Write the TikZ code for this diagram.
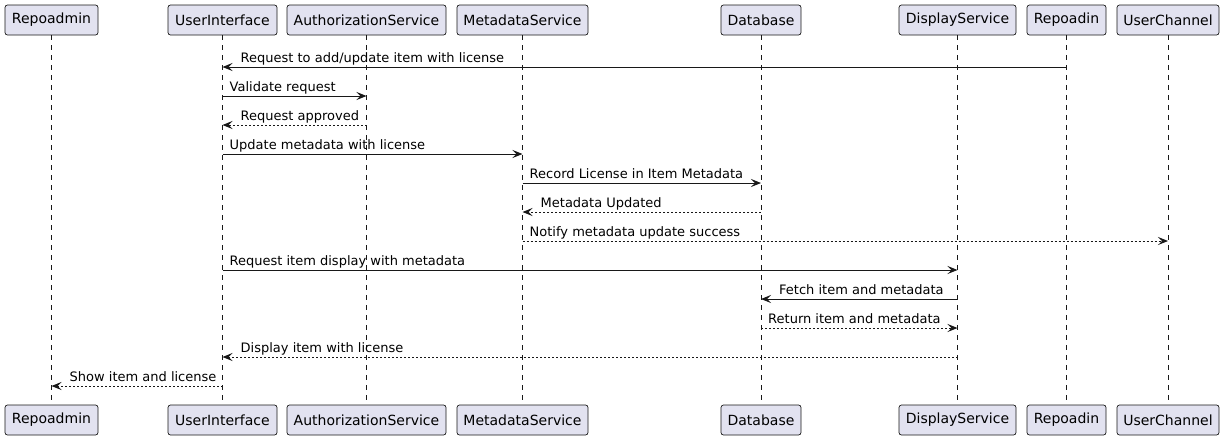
\documentclass[tikz,border=0pt]{standalone}
\usepackage{fontspec}
\setmainfont{DejaVu Sans}
\usetikzlibrary{arrows.meta}
\definecolor{boxfill}{HTML}{E2E2F0}
\definecolor{ink}{HTML}{181818}
\tikzset{
  part/.style={draw=ink, fill=boxfill, line width=0.7pt, rounded corners=2.5pt, minimum height=30pt, inner sep=0pt, font=\fontsize{14pt}{16pt}\selectfont, text=black},
  life/.style={draw=ink, line width=0.6pt, dash pattern=on 5pt off 5pt},
  msg/.style={draw=ink, line width=1pt, -{Stealth[length=10pt,width=8pt,inset=4pt]}},
  ret/.style={msg, dash pattern=on 2pt off 2pt},
  lbl/.style={anchor=base west, inner sep=0pt, font=\fontsize{13pt}{15pt}\selectfont, text=black}
}
\begin{document}
\begin{tikzpicture}[x=1pt,y=-1pt]
\useasboundingbox (0,0) rectangle (1224,440);
% top participants
\node[part, minimum width=93pt]  (ra)  at (51.5,20)  {Repoadmin};
\node[part, minimum width=109pt] (ui)  at (222.5,20) {UserInterface};
\node[part, minimum width=159pt] (as)  at (366.5,20) {AuthorizationService};
\node[part, minimum width=131pt] (ms)  at (522.5,20) {MetadataService};
\node[part, minimum width=80pt]  (db)  at (761,20)   {Database};
\node[part, minimum width=117pt] (ds)  at (957.5,20) {DisplayService};
\node[part, minimum width=79pt]  (rp)  at (1066.5,20){Repoadin};
\node[part, minimum width=102pt] (uc)  at (1168,20)  {UserChannel};
% bottom participants
\node[part, minimum width=93pt]  (ra2) at (51.5,420)  {Repoadmin};
\node[part, minimum width=109pt] (ui2) at (222.5,420) {UserInterface};
\node[part, minimum width=159pt] (as2) at (366.5,420) {AuthorizationService};
\node[part, minimum width=131pt] (ms2) at (522.5,420) {MetadataService};
\node[part, minimum width=80pt]  (db2) at (761,420)   {Database};
\node[part, minimum width=117pt] (ds2) at (957.5,420) {DisplayService};
\node[part, minimum width=79pt]  (rp2) at (1066.5,420){Repoadin};
\node[part, minimum width=102pt] (uc2) at (1168,420)  {UserChannel};
% lifelines
\foreach \a/\b in {ra/ra2,ui/ui2,as/as2,ms/ms2,db/db2,ds/ds2,rp/rp2,uc/uc2}
  \draw[life] (\a.south) -- (\b.north);
% messages
\draw[msg] (rp |- 0,67) -- (ui |- 0,67);
\node[lbl] (t1) at ([xshift=18pt]ui |- 0,62) {Request to add/update item with license};
\draw[msg] (ui |- 0,96) -- (as |- 0,96);
\node[lbl] (t2) at ([xshift=7pt]ui |- 0,91) {Validate request};
\draw[ret] (as |- 0,125) -- (ui |- 0,125);
\node[lbl] (t3) at ([xshift=18pt]ui |- 0,120) {Request approved};
\draw[msg] (ui |- 0,154) -- (ms |- 0,154);
\node[lbl] (t4) at ([xshift=7pt]ui |- 0,149) {Update metadata with license};
\draw[msg] (ms |- 0,183) -- (db |- 0,183);
\node[lbl] (t5) at ([xshift=7pt]ms |- 0,178) {Record License in Item Metadata};
\draw[ret] (db |- 0,212) -- (ms |- 0,212);
\node[lbl] (t6) at ([xshift=18pt]ms |- 0,207) {Metadata Updated};
\draw[ret] (ms |- 0,241) -- (uc |- 0,241);
\node[lbl] (t7) at ([xshift=7pt]ms |- 0,236) {Notify metadata update success};
\draw[msg] (ui |- 0,270) -- (ds |- 0,270);
\node[lbl] (t8) at ([xshift=7pt]ui |- 0,265) {Request item display with metadata};
\draw[msg] (ds |- 0,299) -- (db |- 0,299);
\node[lbl] (t9) at ([xshift=18pt]db |- 0,294) {Fetch item and metadata};
\draw[ret] (db |- 0,328) -- (ds |- 0,328);
\node[lbl] (t10) at ([xshift=7pt]db |- 0,323) {Return item and metadata};
\draw[ret] (ds |- 0,357) -- (ui |- 0,357);
\node[lbl] (t11) at ([xshift=18pt]ui |- 0,352) {Display item with license};
\draw[ret] (ui |- 0,386) -- (ra |- 0,386);
\node[lbl] (t12) at ([xshift=18pt]ra |- 0,381) {Show item and license};
\end{tikzpicture}
\end{document}
